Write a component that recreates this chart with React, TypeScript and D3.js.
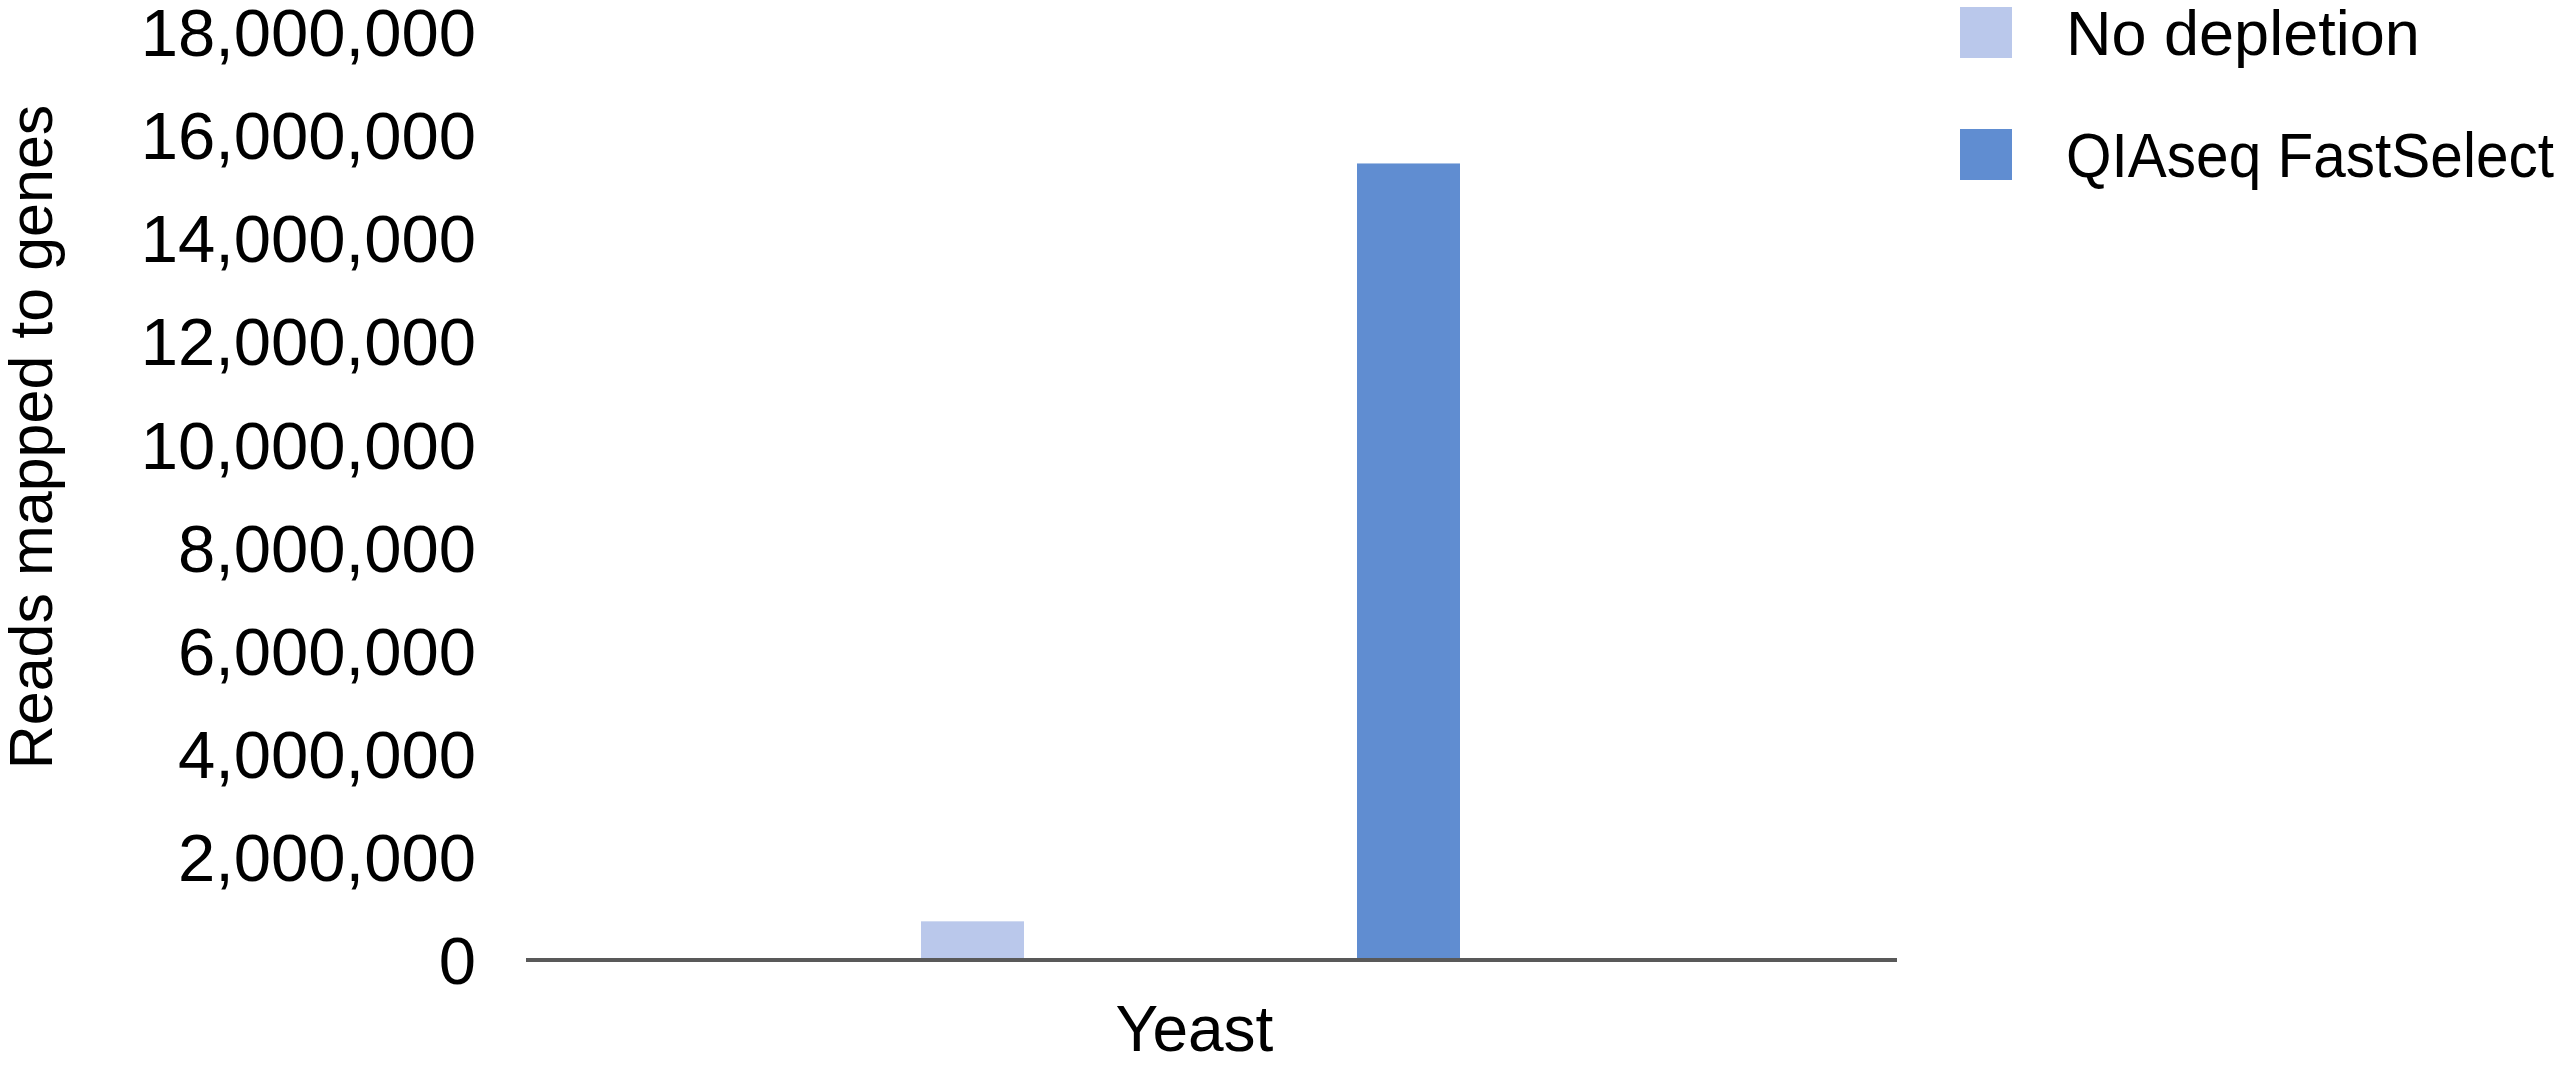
import React from "react";
import * as d3 from "d3";

const categories = ["Yeast"];
const seriesNames = ["No depletion", "QIAseq FastSelect"];
const seriesColors = ["#BAC8EB", "#608DD1"];
const noDepletion = [750000];
const fastSelect = [15450000];
const yTicks = [0, 2000000, 4000000, 6000000, 8000000, 10000000, 12000000, 14000000, 16000000, 18000000];
const yTitle = "Reads mapped to genes";

const W = 2560;
const H = 1066;
const FONT = "'Liberation Sans', Arial, sans-serif";

export default function App() {
  const y = d3.scaleLinear().domain([0, 18000000]).range([960, 32]);
  const x = d3.scaleBand().domain(categories).range([526, 1855]);
  const inner = d3.scalePoint().domain(seriesNames).range([-218, 218]);
  const barW = 103;
  const fmt = d3.format(",");
  const seriesData = [noDepletion, fastSelect];
  const legendWidths = [null, 488];

  return (
    <svg width={W} height={H} style={{ display: "block", position: "absolute", left: 0, top: 0, background: "#fff" }}>
      {yTicks.map((t) => (
        <text key={t} x={476} y={y(t)} dy="0.36em" textAnchor="end" fontFamily={FONT} fontSize={67} fill="#000">
          {fmt(t)}
        </text>
      ))}
      <text
        transform={`translate(52, 437) rotate(-90)`}
        textAnchor="middle"
        fontFamily={FONT}
        fontSize={61}
        fill="#000"
      >
        {yTitle}
      </text>
      {categories.map((c, ci) => {
        const cx = (x(c) as number) + x.bandwidth() / 2;
        return (
          <g key={c}>
            {seriesNames.map((s, si) => {
              const v = seriesData[si][ci];
              const bx = cx + (inner(s) as number) - barW / 2;
              return <rect key={s} x={bx} y={y(v)} width={barW} height={y(0) - y(v)} fill={seriesColors[si]} />;
            })}
            <text x={cx + 4} y={1028} dy="0.36em" textAnchor="middle" fontFamily={FONT} fontSize={64} fill="#000">
              {c}
            </text>
          </g>
        );
      })}
      <line x1={526} x2={1897} y1={y(0)} y2={y(0)} stroke="#595959" strokeWidth={4} />
      {seriesNames.map((s, i) => (
        <g key={s} transform={`translate(1960, ${7 + i * 122})`}>
          <rect x={0} y={0} width={52} height={51} fill={seriesColors[i]} />
          <text
            x={106}
            y={25.5}
            dy="0.36em"
            fontFamily={FONT}
            fontSize={63}
            fill="#000"
            {...(legendWidths[i] ? { textLength: legendWidths[i], lengthAdjust: "spacingAndGlyphs" } : {})}
          >
            {s}
          </text>
        </g>
      ))}
    </svg>
  );
}
